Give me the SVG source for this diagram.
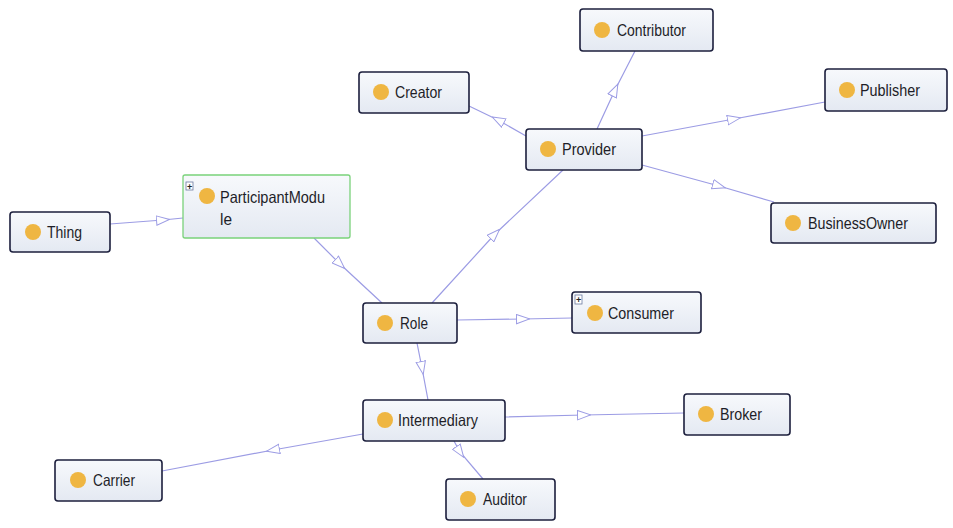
<svg xmlns="http://www.w3.org/2000/svg" width="953" height="528" viewBox="0 0 953 528">
  <style>
    .box { fill: url(#nodeFill); stroke: #1c1f3d; stroke-width: 1.6; }
    .boxSel { fill: url(#nodeFill); stroke: #7ad27a; stroke-width: 1.3; }
    .dot { fill: #efb642; }
    .lbl { font-family: "Liberation Sans", Arial, sans-serif; font-size: 16.5px; fill: #1e1e28; }
    .edge { fill: none; stroke: #9c9ce4; stroke-width: 1.2; marker-mid: url(#tri); }
    .plus { fill: #ffffff; stroke: #6c7aa0; stroke-width: 0.8; }
    .plusTxt { font-family: "Liberation Sans", Arial, sans-serif; font-size: 9px; font-weight: bold; fill: #222; }
  </style>
  <defs>
    <linearGradient id="nodeFill" x1="0" y1="0" x2="0" y2="1">
      <stop offset="0" stop-color="#f7f9fc"/>
      <stop offset="1" stop-color="#e4e9f2"/>
    </linearGradient>
    <!-- hollow triangle placed at the middle vertex of each connector -->
    <marker id="tri" viewBox="0 0 14 11" refX="7" refY="5.5" markerWidth="14" markerHeight="11" markerUnits="userSpaceOnUse" orient="auto">
      <path d="M0.5,0.8 L13.5,5.5 L0.5,10.2 Z" fill="#ffffff" stroke="#9c9ce4" stroke-width="1"/>
    </marker>
  </defs>
  <rect width="953" height="528" fill="#ffffff"/>

  <g id="connectors">
    <polyline class="edge" points="110,224 163,220 183,218"/>
    <polyline class="edge" points="314,238 340,264 382,303"/>
    <polyline class="edge" points="432,303 495,234 563,170"/>
    <polyline class="edge" points="526,136 498,120 469,106"/>
    <polyline class="edge" points="597,129 615,90 635,51"/>
    <polyline class="edge" points="642,136 734,119 825,102"/>
    <polyline class="edge" points="642,165 719,186 774,202"/>
    <polyline class="edge" points="457,320 523,319 572,318"/>
    <polyline class="edge" points="417,343 422,368 428,400"/>
    <polyline class="edge" points="504,417 584,415 684,413"/>
    <polyline class="edge" points="363,434 273,450 162,471"/>
    <polyline class="edge" points="454,441 460,452 483,479"/>
  </g>

  <g id="thing">
    <rect class="box" x="10" y="212" width="100" height="40" rx="3"/>
    <circle class="dot" cx="33" cy="232" r="8"/>
    <text class="lbl" x="47" y="238" textLength="35" lengthAdjust="spacingAndGlyphs">Thing</text>
  </g>

  <g id="participantModule">
    <rect class="boxSel" x="183" y="175" width="167" height="63" rx="2"/>
    <rect class="plus" x="186" y="182" width="7" height="8"/>
    <text class="plusTxt" x="187" y="189.5">+</text>
    <circle class="dot" cx="207" cy="196" r="8"/>
    <text class="lbl" x="220" y="203" textLength="105" lengthAdjust="spacingAndGlyphs">ParticipantModu</text>
    <text class="lbl" x="220" y="225" textLength="12" lengthAdjust="spacingAndGlyphs">le</text>
  </g>

  <g id="contributor">
    <rect class="box" x="580" y="9" width="133" height="42" rx="3"/>
    <circle class="dot" cx="602" cy="30" r="8"/>
    <text class="lbl" x="617" y="36" textLength="69" lengthAdjust="spacingAndGlyphs">Contributor</text>
  </g>

  <g id="creator">
    <rect class="box" x="359" y="72" width="110" height="41" rx="3"/>
    <circle class="dot" cx="381" cy="92" r="8"/>
    <text class="lbl" x="395" y="98" textLength="47" lengthAdjust="spacingAndGlyphs">Creator</text>
  </g>

  <g id="provider">
    <rect class="box" x="526" y="129" width="116" height="41" rx="3"/>
    <circle class="dot" cx="548" cy="149" r="8"/>
    <text class="lbl" x="562" y="155" textLength="54" lengthAdjust="spacingAndGlyphs">Provider</text>
  </g>

  <g id="publisher">
    <rect class="box" x="825" y="69" width="122" height="42" rx="3"/>
    <circle class="dot" cx="847" cy="90" r="8"/>
    <text class="lbl" x="860" y="96" textLength="60" lengthAdjust="spacingAndGlyphs">Publisher</text>
  </g>

  <g id="businessOwner">
    <rect class="box" x="771" y="203" width="165" height="40" rx="3"/>
    <circle class="dot" cx="793" cy="223" r="8"/>
    <text class="lbl" x="808" y="229" textLength="100" lengthAdjust="spacingAndGlyphs">BusinessOwner</text>
  </g>

  <g id="role">
    <rect class="box" x="363" y="303" width="94" height="40" rx="3"/>
    <circle class="dot" cx="385" cy="323" r="8"/>
    <text class="lbl" x="400" y="329" textLength="28" lengthAdjust="spacingAndGlyphs">Role</text>
  </g>

  <g id="consumer">
    <rect class="box" x="572" y="292" width="129" height="41" rx="3"/>
    <rect class="plus" x="575" y="295" width="7" height="9"/>
    <text class="plusTxt" x="576" y="302.5">+</text>
    <circle class="dot" cx="595" cy="313" r="8"/>
    <text class="lbl" x="608" y="319" textLength="66" lengthAdjust="spacingAndGlyphs">Consumer</text>
  </g>

  <g id="intermediary">
    <rect class="box" x="363" y="400" width="142" height="41" rx="3"/>
    <circle class="dot" cx="385" cy="420" r="8"/>
    <text class="lbl" x="398" y="426" textLength="80" lengthAdjust="spacingAndGlyphs">Intermediary</text>
  </g>

  <g id="broker">
    <rect class="box" x="684" y="394" width="106" height="41" rx="3"/>
    <circle class="dot" cx="706" cy="414" r="8"/>
    <text class="lbl" x="720" y="420" textLength="42" lengthAdjust="spacingAndGlyphs">Broker</text>
  </g>

  <g id="carrier">
    <rect class="box" x="55" y="460" width="107" height="41" rx="3"/>
    <circle class="dot" cx="78" cy="480" r="8"/>
    <text class="lbl" x="93" y="486" textLength="42" lengthAdjust="spacingAndGlyphs">Carrier</text>
  </g>

  <g id="auditor">
    <rect class="box" x="446" y="479" width="109" height="41" rx="3"/>
    <circle class="dot" cx="468" cy="499" r="8"/>
    <text class="lbl" x="483" y="505" textLength="44" lengthAdjust="spacingAndGlyphs">Auditor</text>
  </g>
</svg>
